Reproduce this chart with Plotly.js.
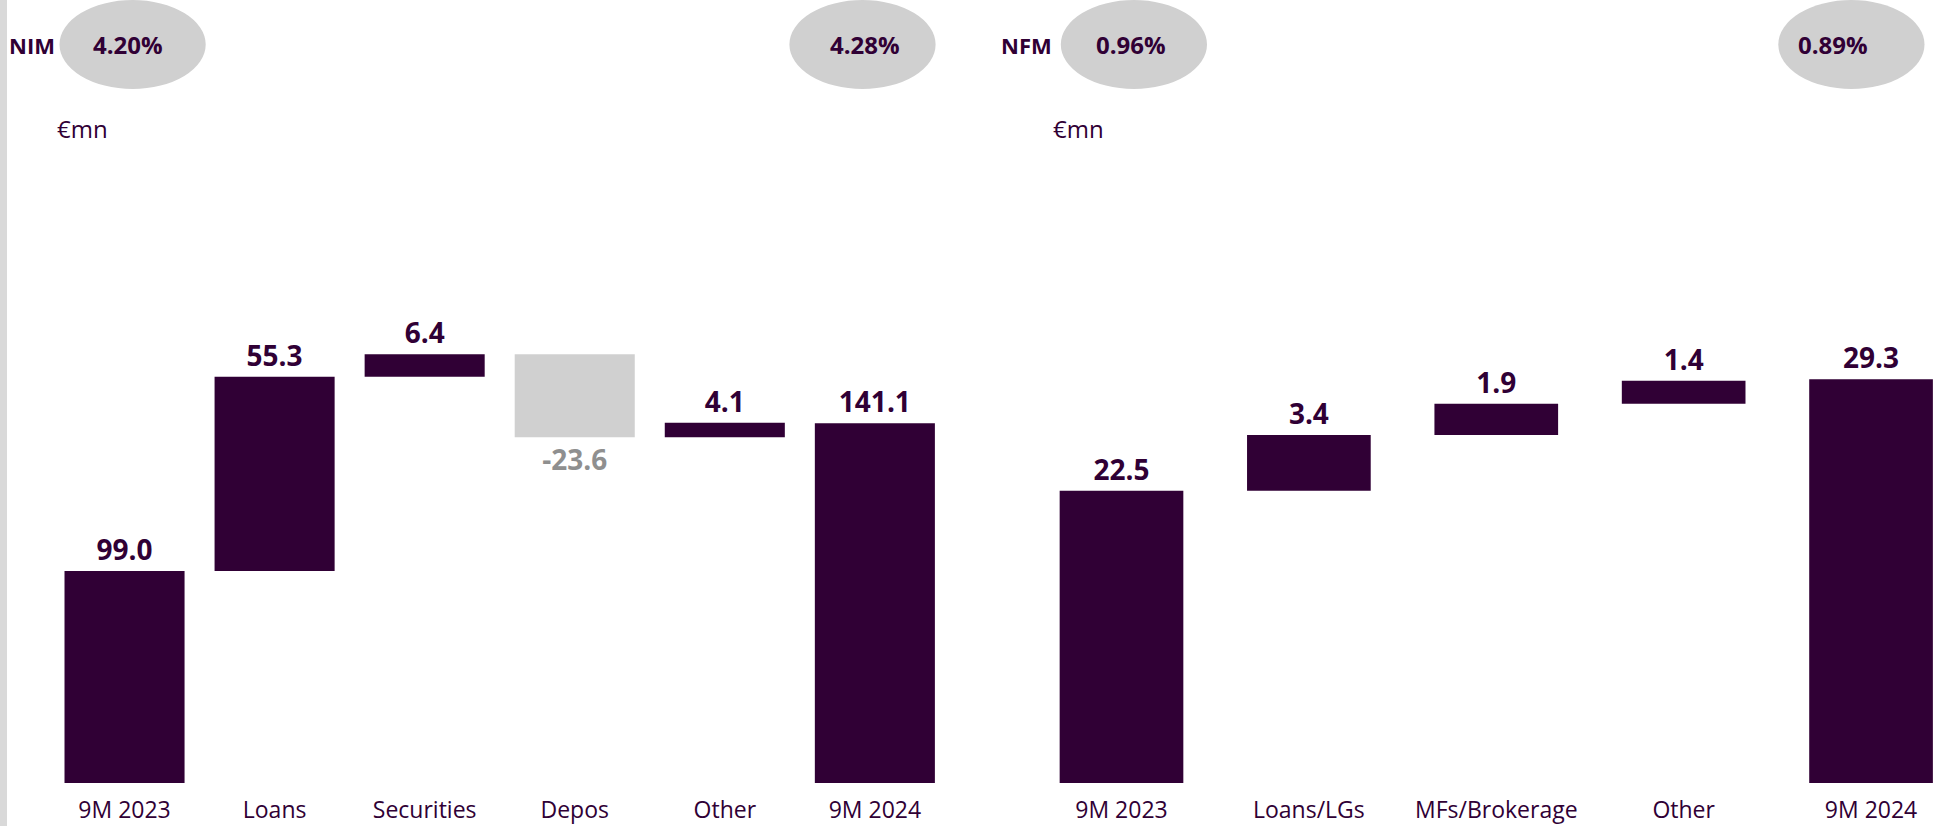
<!DOCTYPE html>
<html>
<head>
<meta charset="utf-8">
<script src="https://cdn.plot.ly/plotly-3.0.1.min.js"></script>
<style>
  html, body { margin: 0; padding: 0; background: #ffffff; }
  #chart { width: 1943px; height: 826px; }
</style>
</head>
<body>
<div id="chart"></div>
<script>
// ---- Data ----
const nimCategories = ["9M 2023", "Loans", "Securities", "Depos", "Other", "9M 2024"];
const nimValues     = [99.0, 55.3, 6.4, -23.6, 4.1, 141.1];
const nimMeasures   = ["absolute", "relative", "relative", "relative", "relative", "absolute"];
const nimMarginStart = "4.20%";
const nimMarginEnd   = "4.28%";

const nfmCategories = ["9M 2023", "Loans/LGs", "MFs/Brokerage", "Other", "9M 2024"];
const nfmValues     = [22.5, 3.4, 1.9, 1.4, 29.3];
const nfmMeasures   = ["absolute", "relative", "relative", "relative", "absolute"];
const nfmMarginStart = "0.96%";
const nfmMarginEnd   = "0.89%";

// ---- Styling ----
const W = 1943, H = 826;
const PURPLE = "#300035";
const GREY_BAR = "#d0d0d0";
const GREY_TEXT = "#8f8f8f";
const FONT = "Open Sans, Noto Sans, DejaVu Sans, sans-serif";

const px = x => x / W;
const py = y => 1 - y / H;

function labelColors(vals, measures) {
  return vals.map((v, i) => (measures[i] === "relative" && v < 0) ? GREY_TEXT : PURPLE);
}

const nimTrace = {
  type: "waterfall",
  x: nimCategories,
  y: nimValues,
  measure: nimMeasures,
  xaxis: "x", yaxis: "y",
  width: 0.8,
  text: nimValues.map(v => v.toFixed(1)),
  textinfo: "text",
  textposition: "outside",
  textfont: { family: FONT, size: 28, color: labelColors(nimValues, nimMeasures), weight: 700 },
  increasing: { marker: { color: PURPLE } },
  decreasing: { marker: { color: GREY_BAR } },
  totals: { marker: { color: PURPLE } },
  connector: { visible: false },
  cliponaxis: true,
  hoverinfo: "x+text"
};

const nfmTrace = {
  type: "waterfall",
  x: nfmCategories,
  y: nfmValues,
  measure: nfmMeasures,
  xaxis: "x2", yaxis: "y2",
  width: 0.66,
  text: nfmValues.map(v => v.toFixed(1)),
  textinfo: "text",
  textposition: "outside",
  textfont: { family: FONT, size: 28, color: labelColors(nfmValues, nfmMeasures), weight: 700 },
  increasing: { marker: { color: PURPLE } },
  decreasing: { marker: { color: GREY_BAR } },
  totals: { marker: { color: PURPLE } },
  connector: { visible: false },
  cliponaxis: true,
  hoverinfo: "x+text"
};

const yDomain = [1 - 783 / H, 1 - 150 / H];

const xBase = {
  type: "category",
  showgrid: false, zeroline: false, showline: false,
  ticks: "", ticklabelstandoff: 11,
  tickfont: { family: FONT, size: 23, color: PURPLE },
  fixedrange: true
};
const yBase = {
  showgrid: false, zeroline: false, showline: false,
  showticklabels: false, ticks: "",
  domain: yDomain, fixedrange: true
};

const ellipse = (x0, x1, y0, y1) => ({
  type: "circle", xref: "paper", yref: "paper",
  x0: px(x0), x1: px(x1), y0: py(y1), y1: py(y0),
  fillcolor: GREY_BAR, line: { width: 0 }, layer: "below"
});

const txt = (x, y, text, size, bold) => ({
  xref: "paper", yref: "paper", x: px(x), y: py(y),
  xanchor: "center", yanchor: "middle", showarrow: false,
  text: bold ? "<b>" + text + "</b>" : text,
  font: { family: FONT, size: size, color: PURPLE }
});

const layout = {
  width: W, height: H,
  margin: { l: 0, r: 0, t: 0, b: 0 },
  paper_bgcolor: "#ffffff",
  plot_bgcolor: "rgba(0,0,0,0)",
  showlegend: false,
  xaxis: Object.assign({}, xBase, { domain: [px(49.5), px(949.9)], anchor: "y", range: [-0.5, 5.5] }),
  yaxis: Object.assign({}, yBase, { anchor: "x", range: [38.6, 218.9] }),
  xaxis2: Object.assign({}, xBase, { domain: [px(1027.8), 1], anchor: "y2", range: [-0.5, 4.384] }),
  yaxis2: Object.assign({}, yBase, { anchor: "x2", range: [4.68, 43.27] }),
  shapes: [
    { type: "rect", xref: "paper", yref: "paper", x0: 0, x1: px(7), y0: 0, y1: 1,
      fillcolor: "#d9d9d9", line: { width: 0 }, layer: "below" },
    ellipse(59.5, 205.7, 0, 89),
    ellipse(789.4, 935.6, 0, 89),
    ellipse(1060.8, 1207, 0, 89),
    ellipse(1778.3, 1924.5, 0, 89)
  ],
  annotations: [
    txt(32, 44.6, "NIM", 22, true),
    txt(128, 44.6, nimMarginStart, 24, true),
    txt(865, 44.6, nimMarginEnd, 24, true),
    txt(1026, 44.6, "NFM", 22, true),
    txt(1131, 44.6, nfmMarginStart, 24, true),
    txt(1833, 44.6, nfmMarginEnd, 24, true),
    txt(82, 129, "€mn", 24, false),
    txt(1078, 129, "€mn", 24, false)
  ]
};

Plotly.newPlot("chart", [nimTrace, nfmTrace], layout, { displayModeBar: false, staticPlot: true });
</script>
</body>
</html>
